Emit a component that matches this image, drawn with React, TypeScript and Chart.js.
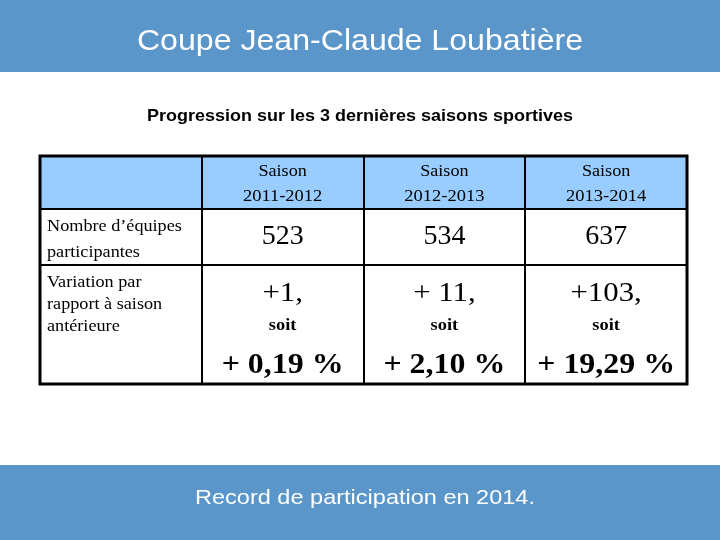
import React, { useEffect, useRef } from "react";
import { Chart, registerables } from "chart.js";

Chart.register(...registerables);

// ---- data ----
const TITLE = "Coupe Jean-Claude Loubatière";
const SUBTITLE = "Progression sur les 3 dernières saisons sportives";
const FOOTER = "Record de participation en 2014.";
const SEASONS = ["2011-2012", "2012-2013", "2013-2014"];
const TEAMS = [523, 534, 637];
const VARIATION_LABELS = ["+1,", "+ 11,", "+103,"];
const PERCENT_LABELS = ["+ 0,19 %", "+ 2,10 %", "+ 19,29 %"];
const ROW1_LABEL = ["Nombre d’équipes", "participantes"];
const ROW2_LABEL = ["Variation par", "rapport à saison", "antérieure"];
const SOIT = "soit";

// ---- layout (not data) ----
const ROW_EDGES = [0, 53, 109, 228];
const BLUE = "#5A96CA";
const HEAD_BG = "#99CCFF";
const SERIF = "'Liberation Serif', 'Times New Roman', serif";
const SANS = "'Liberation Sans', Arial, sans-serif";

function txt(
  ctx: CanvasRenderingContext2D,
  s: string,
  x: number,
  y: number,
  font: string,
  align: CanvasTextAlign,
  color: string,
  sx = 1
) {
  ctx.save();
  ctx.font = font;
  ctx.textAlign = align;
  ctx.textBaseline = "middle";
  ctx.fillStyle = color;
  ctx.translate(x, y);
  ctx.scale(sx, 1);
  ctx.fillText(s, 0, 0);
  ctx.restore();
}

const tablePlugin = {
  id: "slideTable",
  afterDraw(chart: any) {
    const ctx: CanvasRenderingContext2D = chart.ctx;
    const W = chart.width;
    const H = chart.height;
    const xs = chart.scales.x;
    const ys = chart.scales.y;
    const area = chart.chartArea;

    // bands
    ctx.save();
    ctx.fillStyle = BLUE;
    ctx.fillRect(0, 0, W, 72);
    ctx.fillRect(0, 465, W, H - 465);
    ctx.restore();
    txt(ctx, TITLE, W / 2, 42, `30px ${SANS}`, "center", "#ffffff", 1.07);
    txt(ctx, SUBTITLE, W / 2, 116, `bold 16.5px ${SANS}`, "center", "#000000", 1.09);
    txt(ctx, FOOTER, 365, 498, `21px ${SANS}`, "center", "#ffffff", 1.12);

    const colW = (area.right - area.left) / xs.ticks.length;
    const yp = (v: number) => ys.getPixelForValue(v);

    // header background
    ctx.save();
    ctx.fillStyle = HEAD_BG;
    ctx.fillRect(area.left, yp(ROW_EDGES[0]), area.right - area.left, yp(ROW_EDGES[1]) - yp(ROW_EDGES[0]));
    ctx.restore();

    // inner lines
    ctx.save();
    ctx.strokeStyle = "#000";
    ctx.lineWidth = 2;
    ctx.beginPath();
    for (let i = 1; i < xs.ticks.length; i++) {
      const x = Math.round(xs.getPixelForValue(i) - colW / 2);
      ctx.moveTo(x, area.top);
      ctx.lineTo(x, area.bottom);
    }
    for (let r = 1; r < ROW_EDGES.length - 1; r++) {
      const y = Math.round(yp(ROW_EDGES[r]));
      ctx.moveTo(area.left, y);
      ctx.lineTo(area.right, y);
    }
    ctx.stroke();
    // outer border
    ctx.lineWidth = 3;
    ctx.strokeRect(area.left, area.top, area.right - area.left, area.bottom - area.top);
    ctx.restore();

    // first column labels
    const lx = area.left + 7;
    ROW1_LABEL.forEach((s, i) => txt(ctx, s, lx, yp(71 + i * 26), `17px ${SERIF}`, "left", "#000", 1.07));
    ROW2_LABEL.forEach((s, i) => txt(ctx, s, lx, yp(127 + i * 22), `17px ${SERIF}`, "left", "#000", 1.07));

    // season columns
    SEASONS.forEach((season, i) => {
      const cx = xs.getPixelForValue(i + 1);
      txt(ctx, "Saison", cx, yp(16), `16.5px ${SERIF}`, "center", "#000", 1.1);
      txt(ctx, season, cx, yp(41), `16.5px ${SERIF}`, "center", "#000", 1.12);
      txt(ctx, String(TEAMS[i]), cx, yp(81), `28px ${SERIF}`, "center", "#000");
      txt(ctx, VARIATION_LABELS[i], cx, yp(138), `28px ${SERIF}`, "center", "#000", 1.1);
      txt(ctx, SOIT, cx, yp(170), `bold 16px ${SERIF}`, "center", "#000", 1.15);
      txt(ctx, PERCENT_LABELS[i], cx, yp(210), `bold 29px ${SERIF}`, "center", "#000", 1.1);
    });
  },
};

export default function App() {
  const ref = useRef<HTMLCanvasElement | null>(null);
  useEffect(() => {
    document.body.style.margin = "0";
    if (!ref.current) return;
    const chart = new Chart(ref.current, {
      type: "bar",
      data: {
        labels: ["", ...SEASONS],
        datasets: [{ label: "Nombre d’équipes", data: [null, ...TEAMS] as any, backgroundColor: "rgba(0,0,0,0)", hidden: true }],
      },
      options: {
        responsive: false,
        animation: false,
        layout: { padding: { left: 40, right: 33, top: 156, bottom: 156 } },
        plugins: { legend: { display: false }, tooltip: { enabled: false }, title: { display: false } },
        scales: {
          x: { type: "category", offset: true, display: false, grid: { offset: true } },
          y: { type: "linear", min: ROW_EDGES[0], max: ROW_EDGES[ROW_EDGES.length - 1], reverse: true, display: false },
        },
      },
      plugins: [tablePlugin],
    });
    return () => chart.destroy();
  }, []);
  return (
    <div style={{ position: "absolute", left: 0, top: 0, width: 720, height: 540, background: "#fff" }}>
      <canvas ref={ref} width={720} height={540} style={{ display: "block" }} />
    </div>
  );
}
